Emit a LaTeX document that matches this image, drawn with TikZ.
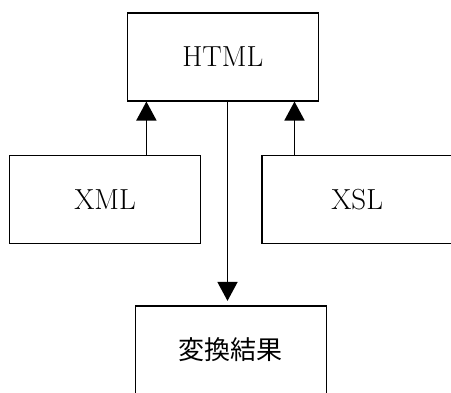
\documentclass[tikz,border=0pt]{standalone}
\usepackage{fontspec}
\newfontfamily\cjk{Noto Sans CJK JP}
\usetikzlibrary{arrows.meta,calc}
\tikzset{
  box/.style={draw,line width=1.6pt,minimum width=191pt,minimum height=88pt,inner sep=0pt,font=\fontsize{29}{33}\selectfont},
  arr/.style={line width=1.6pt,-{Triangle[width=20pt,length=19pt]}},
}
\begin{document}
\begin{tikzpicture}[x=1pt,y=-1pt]
\useasboundingbox (0,0) rectangle (451,392);
\clip (0,0) rectangle (451,392);
\node[box] (html) at (222.8,56.7) {HTML\hspace{10pt}};
\node[box] (xml) at (105,199.3) {XML};
\node[box] (xsl) at (357.2,199.3) {XSL};
\node[box,font=\cjk\fontsize{26}{30}\selectfont] (res) at (230.8,349.7) {変換結果};
\draw[arr] ([xshift=137.7pt]xml.north west) -- ([xshift=137.7pt]xml.north west |- html.south);
\draw[arr] ([xshift=33.6pt]xsl.north west) -- ([xshift=33.6pt]xsl.north west |- html.south);
\draw[arr,shorten >=4pt] ([xshift=101pt]html.south west) -- ([xshift=101pt]html.south west |- res.north);
\end{tikzpicture}
\end{document}
